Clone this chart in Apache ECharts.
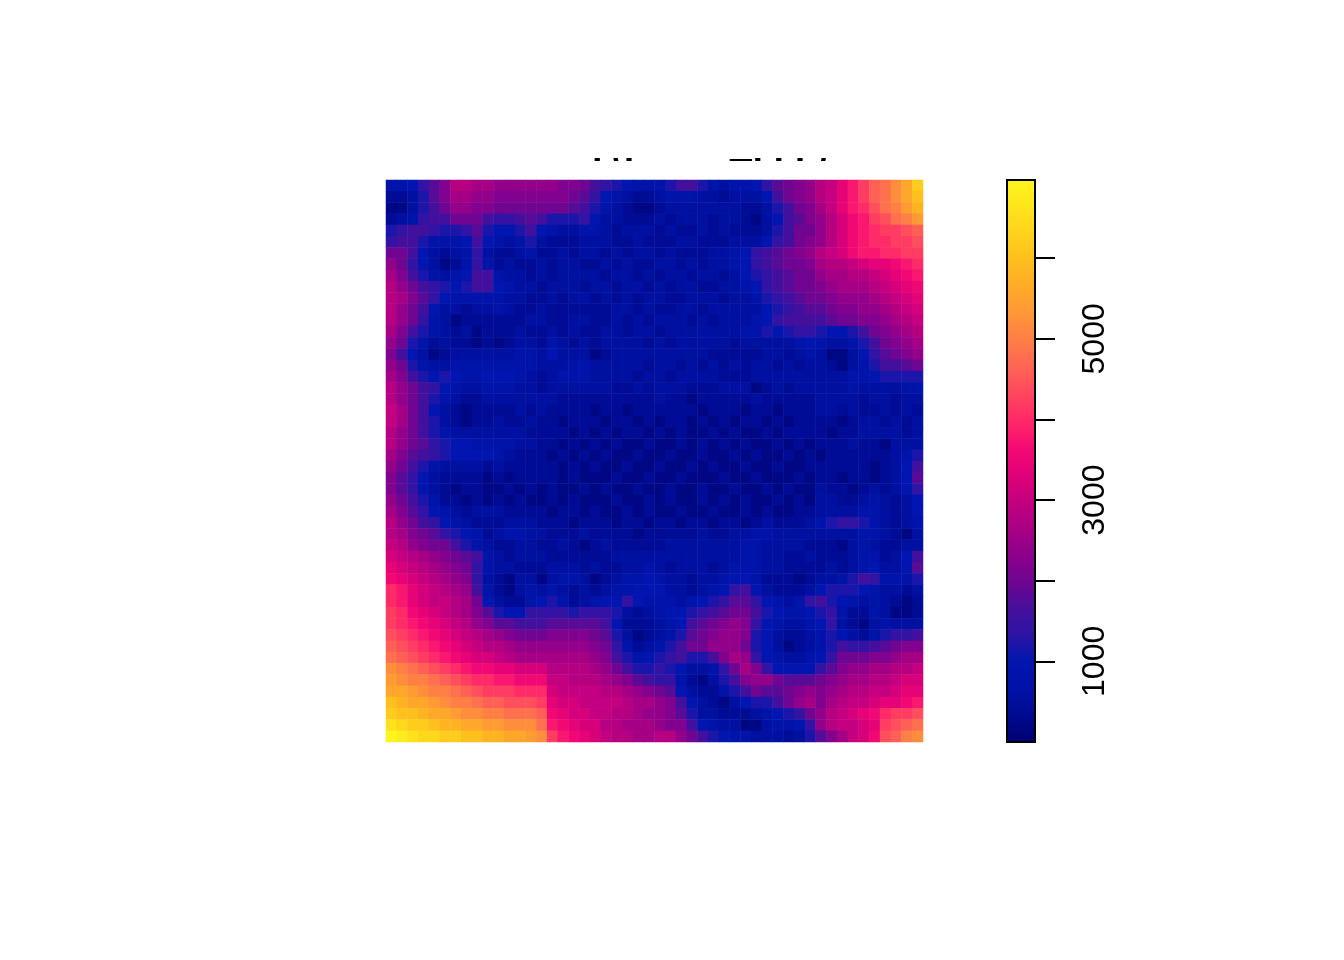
<!DOCTYPE html>
<html><head><meta charset="utf-8">
<style>html,body{margin:0;padding:0;background:#fff}#c{width:1344px;height:960px}</style>
<script src="https://cdn.jsdelivr.net/npm/echarts@6/dist/echarts.min.js"></script>
</head><body><div id="c"></div>
<script>
// Raster values: one base-36 character per cell, in steps of 200.
const rasterRows = [
"44579beedd ccccccbba8 7654446886 4344579abc efhjlnoqsv",
"22369bddcc bbbbbbba97 5432234443 3233358abc efhjlnoqsu",
"11368accbb aaaaaaa986 4321123333 33322368ab dfhjkmoprt",
"234788aaa8 7789866675 3322232333 233213589b cegijlmopr",
"6788766796 5568543344 3233323223 23222368aa cegijkllmn",
"7886444585 4346322233 3223222332 22333578ab cegijkkllm",
"aa85323473 2234223233 2323323222 3345789abc efgijjkkll",
"ca75312474 2322323322 3232233232 3345789aab deefghhijk",
"db86434588 4332323333 2332323323 32356789aa cddeefghij",
"eca8765688 5433233323 3233232332 23345789aa bcdddefghi",
"edb9754444 4332232332 3232332233 323346789a abcccdefgh",
"eca8533233 4322322222 2332322332 3333356789 9abbccdefg",
"eca7431222 2223322332 2323233323 2333457888 89aabbcdef",
"db86432312 2232232322 3323323333 3334465677 65568abcde",
"ca64232212 1233243232 3333232333 3323333345 433468abcd",
"b853123333 3344353331 2333333333 2222233234 3113579abc",
"ca64334444 4444333443 3333233232 3232332323 321346889a",
"db86565445 5543234443 3332332333 3222333333 3334456666",
"eca8754334 4433233333 3223233322 2333123233 3334333344",
"eca8643223 3333332222 2222232212 2222322222 3333233233",
"fda8532122 2232322221 2212222221 2221221222 3323223232",
"fda8632122 3223221222 1221212212 1212212122 2212332323",
"eca8643333 3332222121 2122121211 2121121222 2122333323",
"eca9765544 4433221212 1211211212 1212112121 2223221333",
"db98765555 4322212121 2112112112 1121211212 1222222346",
"ca86433332 3222221212 1121121121 2112112112 2222212358",
"b975322221 2122221211 1211211211 1211211121 2212212359",
"b975321221 1212121121 2112112112 1121121211 3221232357",
"ca86422121 2121121211 1211212112 1212112121 3322343235",
"db97543233 3222212212 1121211211 2112121122 3333443235",
"eca8754322 2333222122 2122122122 1221232223 4677643234",
"edba976542 3443322232 2221222223 2233443333 3333443213",
"fecbaa8643 2233223212 3222223333 3334433332 2213432233",
"gfedcba984 3233322222 2333333333 3334433223 2223442358",
"hgfedcba74 3322233323 2233432333 2344433222 2323453359",
"ihgfedcb73 2133134431 2344543323 3455422212 3346874446",
"kjhgfedc84 2134343232 3445553323 4578532223 5666543323",
"kjhgffeda5 3224564234 5575444345 6799754347 8654343212",
"lkihgfedb9 6557777677 7632345567 89aa865445 6742243112",
"lkjihgfecb 9988899999 8522234589 abcb754334 5732134333",
"mlkjihgfed cbaaabbbba 963123469a bccb653223 4653246778",
"nmlkjihgfe edcccccccb a7423468aa ccca653123 4687789abb",
"onmlkjihgg fedddddddc b864567866 8bdc754334 57aaabbcdd",
"qponmlkjii hhgggeeeed ca86676533 47adb75555 79bccddeef",
"rqpponmlkk jjiiiffeee dcb9877421 368bcca999 abcddeefgg",
"ssrqpponml llkkkgffff eedcba9532 2468a99abc bcdeeffghh",
"utssrqppon nmmmlhggff ffeddcb853 2135668acd bdeffghhij",
"vuutssrqqp pooonihggf feedccb963 322234567a cefghikllm",
"xwvvuttssr rqqqojihgg eedddcbb85 4331134457 ceffghlmno",
"zyxwwvvuut tssrqljihg feeddeeca8 6544333236 9bdfgimnpq"
];
const levelStep = 200;
const valueMin = 0;
const valueMax = 6970;
const tickValues = [1000, 2000, 3000, 4000, 5000, 6000];
const tickLabels = [1000, 3000, 5000];
const rampColors = ["#000070","#000b92","#0012a6","#0016b0","#2d14a5","#460f9b","#6e0591","#8c008c","#aa0084","#c30080","#e10078","#f50a73","#ff2869","#ff465f","#ff6455","#ff7d46","#ff9637","#ffaa28","#ffbe1e","#ffd21c","#ffe41c","#fff51e"];
const clippedTitle = "l \\l         Tl l l /";

const cells = [];
rasterRows.forEach((row, r) => {
  row.replace(/ /g, "").split("").forEach((ch, c) => {
    cells.push([c, r, parseInt(ch, 36) * levelStep]);
  });
});
const nCols = rasterRows[0].replace(/ /g, "").length;
const idx = n => Array.from({length: n}, (_, i) => i);

const chart = echarts.init(document.getElementById("c"), null, {renderer: "canvas"});
chart.setOption({
  animation: false,
  backgroundColor: "#ffffff",
  title: {
    text: clippedTitle, left: 592, top: 157, padding: 0, z: 0,
    textStyle: {fontFamily: "Liberation Sans", fontWeight: "bold", fontSize: 38, color: "#000"}
  },
  graphic: [{type: "rect", z: 1, silent: true, shape: {x: 560, y: 161, width: 300, height: 20}, style: {fill: "#fff"}}],
  grid: [
    {left: 386, top: 180, width: 537, height: 562, show: false},
    {left: 1007, top: 180, width: 28, height: 562, show: true, z: 10, backgroundColor: "transparent", borderColor: "#000", borderWidth: 2}
  ],
  xAxis: [
    {type: "category", gridIndex: 0, data: idx(nCols), show: false},
    {type: "value", gridIndex: 1, show: false, min: 0, max: 1}
  ],
  yAxis: [
    {type: "category", gridIndex: 0, data: idx(rasterRows.length), inverse: true, show: false},
    {type: "value", gridIndex: 1, min: valueMin, max: valueMax, position: "right", z: 11,
     splitLine: {show: false},
     axisLine: {show: false, onZero: false},
     axisTick: {show: true, length: 20, lineStyle: {color: "#000", width: 2}, customValues: tickValues},
     axisLabel: {show: true, rotate: 90, margin: 44, fontSize: 32, fontFamily: "Liberation Sans", color: "#000", customValues: tickLabels, hideOverlap: false, formatter: v => String(v)}
    }
  ],
  visualMap: {
    type: "continuous", seriesIndex: 0, min: valueMin, max: valueMax,
    left: 1007, top: 180, itemWidth: 28, itemHeight: 562, padding: 0,
    showLabel: false, calculable: false, hoverLink: false, realtime: false, text: null,
    inRange: {color: rampColors}
  },
  series: [{
    type: "heatmap", xAxisIndex: 0, yAxisIndex: 0, data: cells, progressive: 0,
    itemStyle: {borderWidth: 0}, emphasis: {disabled: true}
  }]
});
</script></body></html>
